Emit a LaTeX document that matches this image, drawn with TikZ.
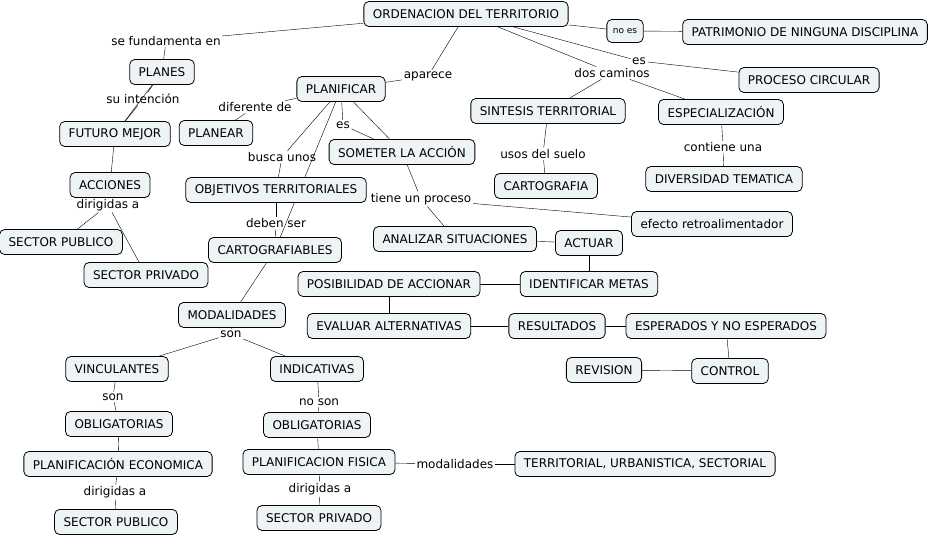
\documentclass[tikz,border=0pt]{standalone}
\usepackage{fontspec}
\setmainfont{DejaVu Sans}
\usetikzlibrary{backgrounds}
\definecolor{cfill}{HTML}{EEF3F6}
\begin{document}
\begin{tikzpicture}[x=1pt,y=-1pt,
    concept/.style={draw, line width=0.8pt, rounded corners=5pt, fill=cfill,
        font=\fontsize{12}{14}\selectfont, inner xsep=9pt, minimum height=25pt},
    smallconcept/.style={concept, font=\fontsize{9}{11}\selectfont, inner xsep=6pt, minimum height=23pt},
    link/.style={font=\fontsize{12}{14}\selectfont, inner sep=1.5pt},
    conn/.style={line width=0.7pt}]
    \useasboundingbox (0,0) rectangle (939,538);
    % concepts
    \node[concept] (ord) at (466,14) {ORDENACION DEL TERRITORIO};
    \node[smallconcept] (noes) at (625,31) {no es};
    \node[concept] (patr) at (805,32) {PATRIMONIO DE NINGUNA DISCIPLINA};
    \node[concept] (planes) at (162,72) {PLANES};
    \node[concept] (planif) at (341,89) {PLANIFICAR};
    \node[concept] (proc) at (809,80) {PROCESO CIRCULAR};
    \node[concept] (sint) at (548,111) {SINTESIS TERRITORIAL};
    \node[concept] (espec) at (721,112) {ESPECIALIZACIÓN};
    \node[concept] (futuro) at (115,134) {FUTURO MEJOR};
    \node[concept] (planear) at (216,133) {PLANEAR};
    \node[concept] (someter) at (402,152) {SOMETER LA ACCIÓN};
    \node[concept] (carto) at (546,186) {CARTOGRAFIA};
    \node[concept] (divers) at (724,179) {DIVERSIDAD TEMATICA};
    \node[concept] (acciones) at (110,185) {ACCIONES};
    \node[concept] (objet) at (276,190) {OBJETIVOS TERRITORIALES};
    \node[concept] (efecto) at (712,224) {efecto retroalimentador};
    \node[concept] (secpub) at (61,242) {SECTOR PUBLICO};
    \node[concept] (analizar) at (455,239) {ANALIZAR SITUACIONES};
    \node[concept] (actuar) at (589,243) {ACTUAR};
    \node[concept] (cartof) at (275,250) {CARTOGRAFIABLES};
    \node[concept] (secpriv) at (146,275) {SECTOR PRIVADO};
    \node[concept] (posib) at (389,284) {POSIBILIDAD DE ACCIONAR};
    \node[concept] (ident) at (589,284) {IDENTIFICAR METAS};
    \node[concept] (modal) at (232,315) {MODALIDADES};
    \node[concept] (evaluar) at (389,326) {EVALUAR ALTERNATIVAS};
    \node[concept] (result) at (557,326) {RESULTADOS};
    \node[concept] (esper) at (726,326) {ESPERADOS Y NO ESPERADOS};
    \node[concept] (revision) at (604,370) {REVISION};
    \node[concept] (control) at (730,371) {CONTROL};
    \node[concept] (vinc) at (117,369) {VINCULANTES};
    \node[concept] (indic) at (317,369) {INDICATIVAS};
    \node[concept] (obliga) at (119,424) {OBLIGATORIAS};
    \node[concept] (obligb) at (317,425) {OBLIGATORIAS};
    \node[concept] (planeco) at (118,464) {PLANIFICACIÓN ECONOMICA};
    \node[concept] (planfis) at (319,462) {PLANIFICACION FISICA};
    \node[concept] (terr) at (645,464) {TERRITORIAL, URBANISTICA, SECTORIAL};
    \node[concept] (secpubb) at (116,522) {SECTOR PUBLICO};
    \node[concept] (secprivb) at (319,518) {SECTOR PRIVADO};
    % linking phrases
    \node[link] (lfund) at (166,41) {se fundamenta en};
    \node[link] (lintencion) at (143,99) {su intención};
    \node[link] (ldif) at (255,107) {diferente de};
    \node[link] (laparece) at (428,76) {aparece};
    \node[link] (lesa) at (343,125) {es};
    \node[link] (lbusca) at (282,157) {busca unos};
    \node[link] (ldiriga) at (108,205) {dirigidas a};
    \node[link] (ldeben) at (276,223) {deben ser};
    \node[link] (ltiene) at (421,199) {tiene un proceso};
    \node[link] (lesb) at (639,61) {es};
    \node[link] (ldos) at (612,73) {dos caminos};
    \node[link] (lusos) at (543,154) {usos del suelo};
    \node[link] (lcontiene) at (723,147) {contiene una};
    \node[link] (lsona) at (231,334) {son};
    \node[link] (lsonb) at (113,397) {son};
    \node[link] (lnoson) at (319,402) {no son};
    \node[link] (ldirigb) at (115,492) {dirigidas a};
    \node[link] (ldirigc) at (320,489) {dirigidas a};
    \node[link] (lmodal) at (455,464) {modalidades};
    % connectors
    \begin{scope}[on background layer, conn]
        \draw (ord) -- (lfund);
        \draw (lfund) -- (planes);
        \draw (ord) -- (laparece);
        \draw (laparece) -- (planif);
        \draw (ord) -- (noes);
        \draw (noes) -- (patr);
        \draw (ord) -- (lesb);
        \draw (lesb) -- (proc);
        \draw (ord) -- (ldos);
        \draw (ldos) -- (sint);
        \draw (ldos) -- (espec);
        \draw (sint) -- (lusos);
        \draw (lusos) -- (carto);
        \draw (espec) -- (lcontiene);
        \draw (lcontiene) -- (divers);
        \draw (planes) -- (lintencion);
        \draw (lintencion) -- (futuro);
        \draw (planes) -- (futuro);
        \draw (futuro) -- (acciones);
        \draw (acciones) -- (ldiriga);
        \draw (ldiriga) -- (secpub);
        \draw (ldiriga) -- (secpriv);
        \draw (planif) -- (ldif);
        \draw (ldif) -- (planear);
        \draw (planif) -- (lbusca);
        \draw (lbusca) -- (objet);
        \draw (planif) -- (cartof);
        \draw (objet) -- (ldeben);
        \draw (ldeben) -- (cartof);
        \draw (planif) -- (lesa);
        \draw (lesa) -- (someter);
        \draw (planif) -- (someter);
        \draw (someter) -- (ltiene);
        \draw (ltiene) -- (analizar);
        \draw (ltiene) -- (efecto);
        \draw (analizar) -- (actuar);
        \draw (actuar) -- (ident);
        \draw (ident) -- (posib);
        \draw (posib) -- (evaluar);
        \draw (evaluar) -- (result);
        \draw (result) -- (esper);
        \draw (esper) -- (control);
        \draw (control) -- (revision);
        \draw (cartof) -- (modal);
        \draw (modal) -- (lsona);
        \draw (lsona) -- (vinc);
        \draw (lsona) -- (indic);
        \draw (vinc) -- (lsonb);
        \draw (lsonb) -- (obliga);
        \draw (obliga) -- (planeco);
        \draw (planeco) -- (ldirigb);
        \draw (ldirigb) -- (secpubb);
        \draw (indic) -- (lnoson);
        \draw (lnoson) -- (obligb);
        \draw (obligb) -- (planfis);
        \draw (planfis) -- (ldirigc);
        \draw (ldirigc) -- (secprivb);
        \draw (planfis) -- (lmodal);
        \draw (lmodal) -- (terr);
    \end{scope}
\end{tikzpicture}
\end{document}
